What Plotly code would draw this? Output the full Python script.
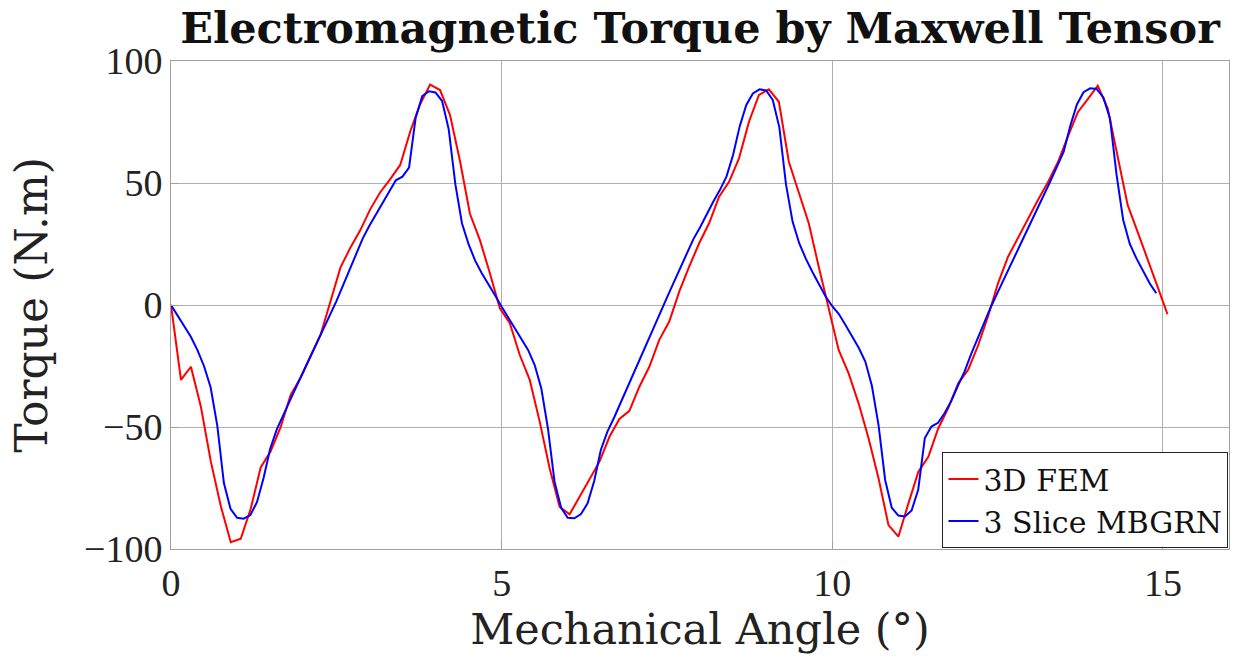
import numpy as np
import plotly.graph_objects as go

# 3D FEM torque samples (101 points over 0 .. 15.07 deg)
fem_angle = np.linspace(0.0, 15.07, 101)
fem_torque = [
    0.0, -30.7, -25.3, -41.7, -64.2, -82.5, -97.2, -95.8, -83.5, -66.6,
    -60.0, -50.1, -36.9, -29.8, -21.0, -12.3, 1.4, 15.3, 23.5, 30.7,
    39.3, 46.2, 51.6, 57.4, 71.0, 82.3, 90.3, 88.1, 77.9, 59.0,
    37.4, 26.6, 13.0, -1.4, -7.5, -20.5, -30.7, -47.8, -67.0, -82.7,
    -85.8, -78.6, -71.7, -64.2, -54.0, -46.7, -43.4, -33.5, -25.3, -14.3,
    -6.8, 5.5, 15.7, 25.3, 33.5, 44.4, 50.5, 60.1, 75.1, 86.1,
    88.4, 83.3, 58.7, 46.4, 33.5, 15.7, -2.0, -18.4, -28.0, -40.3,
    -54.6, -71.0, -90.2, -94.9, -81.3, -68.3, -62.2, -50.5, -42.3, -32.1,
    -26.5, -16.5, -4.5, 9.0, 19.8, 27.6, 35.8, 43.0, 50.3, 58.5,
    69.0, 79.0, 84.4, 89.9, 80.6, 61.5, 41.0, 30.0, 19.1, 7.5,
    -3.8,
]

# 3 slice MBGRN torque samples (150 points, 0.1 deg step)
mbgrn_angle = np.round(np.arange(150) * 0.1, 1)
mbgrn_torque = [
    0.0, -4.3, -8.6, -13.0, -18.5, -25.1, -33.8, -49.4, -73.0, -83.5,
    -87.2, -87.6, -86.1, -80.8, -70.9, -58.9, -51.0, -44.8, -39.1, -33.2,
    -27.5, -21.7, -16.0, -10.1, -4.5, 1.5, 7.9, 14.3, 20.9, 27.3,
    32.5, 37.3, 42.1, 46.9, 51.1, 52.6, 56.3, 76.8, 85.6, 87.6,
    87.1, 83.6, 72.0, 49.5, 33.5, 24.9, 18.2, 13.0, 8.2, 4.0,
    -0.7, -5.1, -9.3, -13.7, -18.4, -24.6, -34.2, -50.5, -72.4, -83.1,
    -87.2, -87.4, -85.7, -81.3, -72.1, -59.4, -51.9, -46.2, -40.0, -33.9,
    -27.7, -21.6, -15.4, -9.3, -2.5, 3.0, 9.1, 15.2, 21.2, 27.0,
    31.8, 37.3, 42.3, 47.1, 52.6, 61.5, 73.2, 82.0, 86.7, 88.4,
    87.9, 84.0, 72.8, 49.5, 34.2, 25.3, 19.0, 13.5, 8.5, 3.5,
    -0.5, -3.7, -8.2, -13.0, -17.5, -23.2, -33.2, -49.2, -71.7, -83.1,
    -86.3, -86.7, -84.2, -75.7, -54.5, -49.8, -48.3, -44.3, -39.3, -33.1,
    -27.3, -20.1, -13.4, -6.8, -0.7, 5.1, 10.9, 16.8, 22.5, 28.4,
    34.2, 39.6, 45.1, 50.8, 57.1, 62.8, 73.5, 82.2, 87.2, 88.8,
    88.5, 85.1, 76.5, 53.3, 34.8, 25.0, 19.1, 13.7, 8.9, 4.8,
]

x_ticks = [0, 5, 10, 15]
y_ticks = [-100, -50, 0, 50, 100]

tick_serif = "Liberation Serif, DejaVu Serif, serif"
text_serif = "DejaVu Serif, Liberation Serif, serif"

fig = go.Figure()
fig.add_trace(go.Scatter(
    x=fem_angle, y=fem_torque, mode="lines", name="3D FEM",
    line=dict(color="#ff0000", width=2),
))
fig.add_trace(go.Scatter(
    x=mbgrn_angle, y=mbgrn_torque, mode="lines", name="3 Slice MBGRN",
    line=dict(color="#0000ff", width=2),
))

axis_common = dict(
    showline=True, linecolor="#a0a0a0", linewidth=1, mirror=True,
    showgrid=True, gridcolor="#b0b0b0", gridwidth=1,
    ticks="inside", ticklen=8, tickcolor="#a0a0a0",
    zeroline=False,
    tickfont=dict(family=tick_serif, size=38, color="#222222"),
)

fig.update_layout(
    width=1249, height=659,
    margin=dict(l=171, r=20, t=61, b=110),
    paper_bgcolor="white", plot_bgcolor="white",
    title=dict(
        text="<b>Electromagnetic Torque by Maxwell Tensor</b>",
        font=dict(family=text_serif, size=43, color="#111111"),
        x=0.5, xanchor="center", y=0.957, yanchor="middle",
        xref="paper",
    ),
    xaxis=dict(
        range=[0, 16], tickvals=x_ticks,
        title=dict(text="Mechanical Angle (°)",
                   font=dict(family=text_serif, size=43, color="#222222"),
                   standoff=6),
        **axis_common,
    ),
    yaxis=dict(
        range=[-100, 100], tickvals=y_ticks,
        title=dict(text="Torque (N.m)",
                   font=dict(family=text_serif, size=44, color="#222222"),
                   standoff=22),
        **axis_common,
    ),
    legend=dict(
        x=0.9995, xanchor="right", y=0.002, yanchor="bottom",
        bgcolor="white", bordercolor="#222222", borderwidth=1,
        font=dict(family=text_serif, size=30, color="#111111"),
        itemwidth=30, tracegroupgap=0,
    ),
    showlegend=True,
)

fig.write_html("out.html")
